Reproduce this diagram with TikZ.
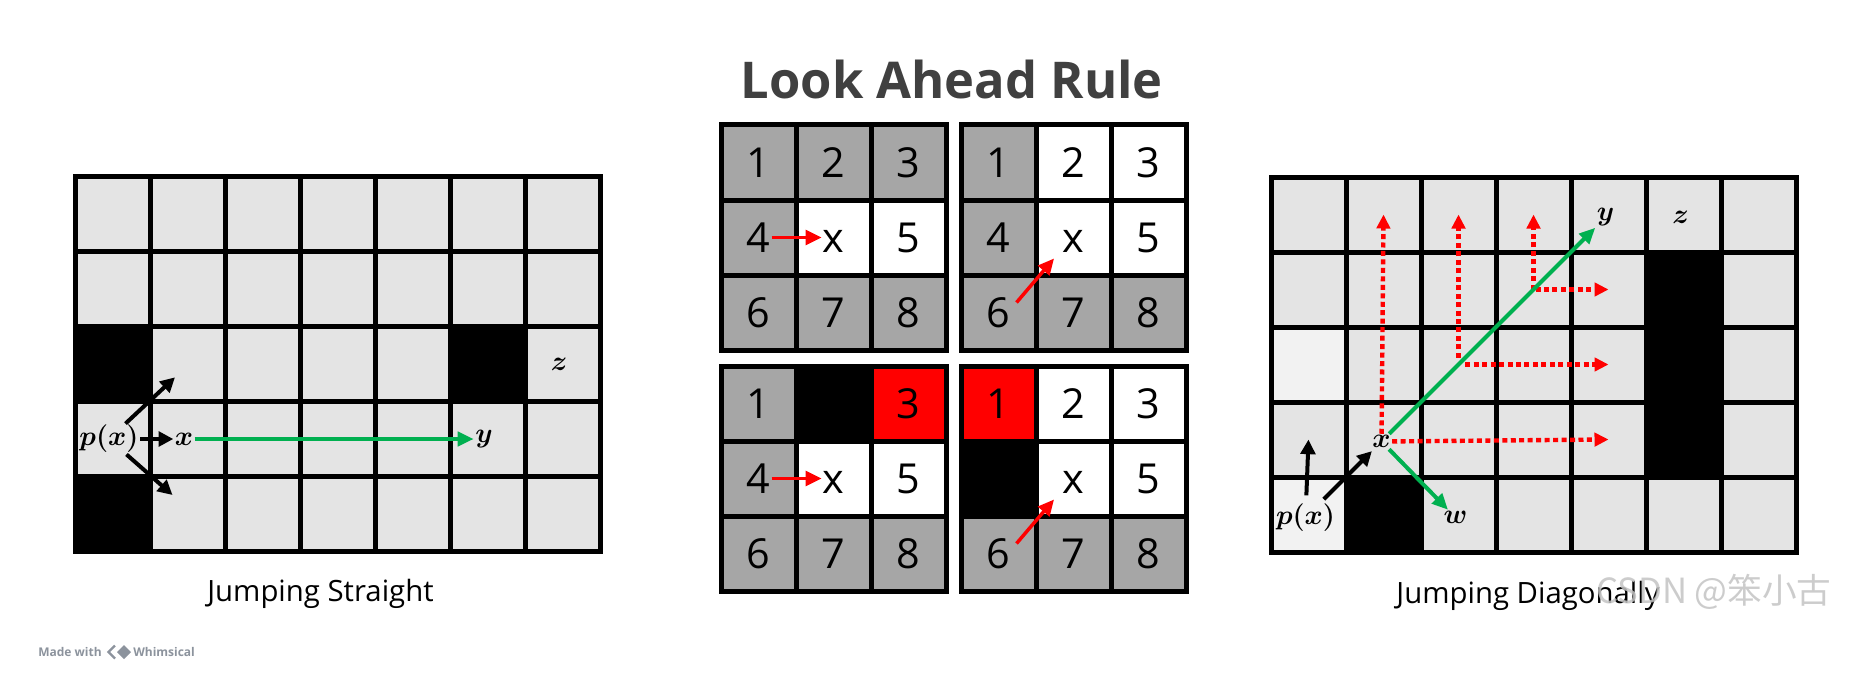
\documentclass[tikz,border=0pt]{standalone}
\usepackage{fontspec}
\usepackage{amsmath}
\usepackage{tikz}
\newfontfamily\osans{Open Sans}
\newfontfamily\cjk{Noto Sans CJK SC}
\definecolor{lg}{HTML}{E4E4E4}
\definecolor{pl}{HTML}{F2F2F2}
\definecolor{md}{HTML}{A6A6A6}
\definecolor{rd}{HTML}{FF0000}
\definecolor{jgreen}{HTML}{00B050}
\definecolor{titlegray}{HTML}{404040}
\definecolor{markgray}{HTML}{C4C4C4}
\definecolor{whimgray}{HTML}{8C939D}
\tikzstyle{cell}=[draw, line width=3.75pt, fill=lg, minimum size=56.25pt, inner sep=0pt]
\tikzstyle{num}=[cell, font=\osans\fontsize{31}{31}\selectfont, text height=22pt, text depth=0pt]
\tikzstyle{lbl}=[inner sep=1pt, font=\fontsize{20}{24}\selectfont\boldmath]
\tikzstyle{caption}=[anchor=base, inner sep=0pt, font=\osans\fontsize{22}{26}\selectfont]
\tikzstyle{blkarrow}=[line width=3pt,-{Triangle[length=11pt,width=11pt]}]
\tikzstyle{grnarrow}=[jgreen,line width=3pt,-{Triangle[length=12pt,width=10.5pt]}]
\tikzstyle{redarrow}=[rd,line width=2.6pt,-{Triangle[length=12pt,width=11pt]}]
\tikzstyle{dotarrow}=[rd,line width=3.3pt,dash pattern=on 3.75pt off 2.6pt,-{Triangle[length=10.5pt,width=10pt]}]
\usetikzlibrary{arrows.meta,calc}

\begin{document}
\begin{tikzpicture}[x=0.75pt,y=-0.75pt]
\fill[white] (0,0) rectangle (1872,681);
\useasboundingbox (0,0) rectangle (1872,681);

\node[anchor=base, text=titlegray, font=\osans\bfseries\fontsize{38}{44}\selectfont] (title) at (951.7,99) {Look Ahead Rule};

% jumping straight
\begin{scope}[shift={(75.5,176.5)}]
\foreach \row [count=\r from 0] in {{lg,lg,lg,lg,lg,lg,lg},{lg,lg,lg,lg,lg,lg,lg},{black,lg,lg,lg,lg,black,lg},{lg,lg,lg,lg,lg,lg,lg},{black,lg,lg,lg,lg,lg,lg}}
  \foreach \f [count=\c from 0] in \row
    \node[cell,fill=\f] (L-\c-\r) at ({75*\c+37.5},{75*\r+37.5}) {};
\end{scope}
\node[lbl] (px1) at ([xshift=-3]L-0-3.center) {$p(x)$};
\node[lbl] (x1) at ([xshift=-3]L-1-3.center) {$x$};
\node[lbl] (y1) at ([xshift=-3]L-5-3.center) {$y$};
\node[lbl] (z1) at ([xshift=-3]L-6-2.center) {$z$};
\coordinate (up1) at (175,377.3);
\coordinate (dn1) at (172.5,495);
\draw[blkarrow] (px1) -- (up1);
\draw[blkarrow] (px1) -- (x1);
\draw[blkarrow] (px1) -- (dn1);
\draw[grnarrow] (x1) -- (y1);
\node[caption] (cap1) at (320.5,601) {Jumping Straight};

% look ahead
\begin{scope}[shift={(721,125)}]
\foreach \f/\t [count=\k from 0] in {md/1,md/2,md/3,md/4,white/x,white/5,md/6,md/7,md/8}
  \node[num,fill=\f] (tl\k) at ({mod(\k,3)*75+37.5},{floor(\k/3)*75+37.5}) {\t};
\end{scope}
\begin{scope}[shift={(961,125)}]
\foreach \f/\t [count=\k from 0] in {md/1,white/2,white/3,md/4,white/x,white/5,md/6,md/7,md/8}
  \node[num,fill=\f] (tr\k) at ({mod(\k,3)*75+37.5},{floor(\k/3)*75+37.5}) {\t};
\end{scope}
\begin{scope}[shift={(721,366)}]
\foreach \f/\t [count=\k from 0] in {md/1,black/{},rd/3,md/4,white/x,white/5,md/6,md/7,md/8}
  \node[num,fill=\f] (bl\k) at ({mod(\k,3)*75+37.5},{floor(\k/3)*75+37.5}) {\t};
\end{scope}
\begin{scope}[shift={(961,366)}]
\foreach \f/\t [count=\k from 0] in {rd/1,white/2,white/3,black/{},white/x,white/5,md/6,md/7,md/8}
  \node[num,fill=\f] (br\k) at ({mod(\k,3)*75+37.5},{floor(\k/3)*75+37.5}) {\t};
\end{scope}
\draw[redarrow,shorten <=9.75pt,shorten >=8.85pt] (tl3.center) -- (tl4.center);
\draw[redarrow,shorten <=9.75pt,shorten >=8.85pt] (bl3.center) -- (bl4.center);
\draw[redarrow] ([shift={(18,-10)}]tr6.center) -- ([shift={(-19.5,21)}]tr4.center);
\draw[redarrow] ([shift={(18,-10)}]br6.center) -- ([shift={(-19.5,21)}]br4.center);

% jumping diagonally
\begin{scope}[shift={(1271,177)}]
\foreach \row [count=\r from 0] in {{lg,lg,lg,lg,lg,lg,lg},{lg,lg,lg,lg,lg,black,lg},{pl,lg,lg,lg,lg,black,lg},{lg,lg,lg,lg,lg,black,lg},{pl,black,lg,lg,lg,lg,lg}}
  \foreach \f [count=\c from 0] in \row
    \node[cell,fill=\f] (R-\c-\r) at ({75*\c+37.5},{75*\r+37.5}) {};
\end{scope}
\node[lbl] (px2) at ([shift={(-3,3)}]R-0-4.center) {$p(x)$};
\node[lbl] (x2) at ([shift={(-2,2)}]R-1-3.center) {$x$};
\node[lbl] (y2) at ([shift={(-3,3)}]R-4-0.center) {$y$};
\node[lbl] (z2) at ([shift={(-3,3)}]R-5-0.center) {$z$};
\node[lbl] (w2) at ([shift={(-3,3)}]R-2-4.center) {$w$};
\draw[dotarrow] (x2) -- (R-1-0.center);
\draw[dotarrow] (x2) -- (R-4-3.center);
\draw[dotarrow,shorten <=5pt] (R-2-2.center) -- (R-2-0.center);
\draw[dotarrow,shorten <=5pt] (R-2-2.center) -- (R-4-2.center);
\draw[dotarrow] (R-3-1.center) -- (R-3-0.center);
\draw[dotarrow,shorten <=1.5pt] (R-3-1.center) -- (R-4-1.center);
\draw[blkarrow,shorten <=5pt] (px2) -- (R-0-3.center);
\draw[blkarrow,shorten <=3pt,shorten >=2pt] (px2) -- (x2);
\draw[grnarrow] (x2) -- (y2);
\draw[grnarrow] (x2) -- (w2);
\node[caption] (cap2) at (1528,603) {Jumping Diagonally};

% marks
\node[anchor=base west, inner sep=0pt, text=markgray, opacity=0.85, font=\cjk\fontsize{26}{30}\selectfont] (mark) at (1596,603) {CSDN @笨小古};
\node[anchor=base west, inner sep=0pt, text=whimgray, font=\osans\bfseries\fontsize{9}{11}\selectfont] (made) at (38,656) {Made with};
\node[anchor=base west, inner sep=0pt, text=whimgray, font=\osans\bfseries\fontsize{9}{11}\selectfont] (whim) at (133,656) {Whimsical};
\fill[whimgray] (117,652) -- (124,645) -- (131,652) -- (124,659) -- cycle;
\draw[whimgray,line width=1.8pt] (115,645.5) -- (108.5,652) -- (115,658.5);
\end{tikzpicture}
\end{document}
